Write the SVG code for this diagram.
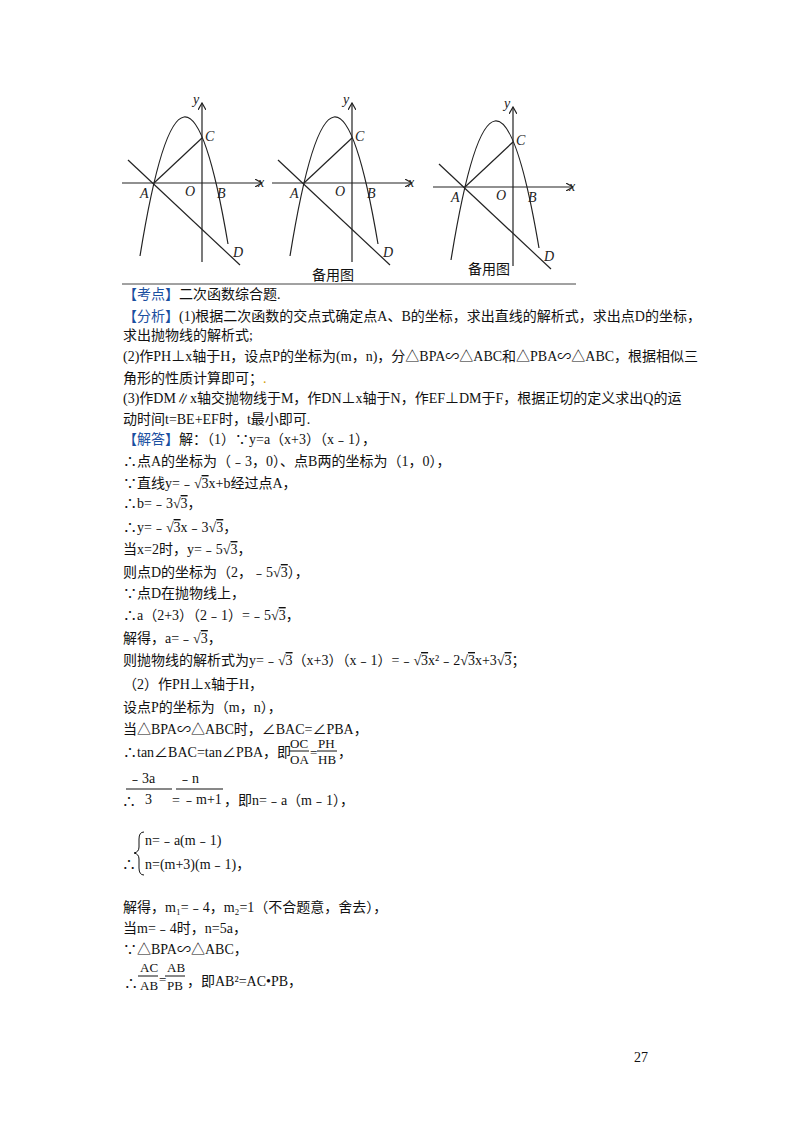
<svg xmlns="http://www.w3.org/2000/svg" width="800" height="1132" viewBox="0 0 800 1132">
<style>
.t{font-family:"Liberation Serif","Noto Sans CJK SC",serif;font-size:14px;fill:#111}
.f{font-family:"Liberation Serif",serif;font-size:13px;fill:#111}
.b{fill:#1a4fa0}
.g{fill:none;stroke:#222;stroke-width:1.2}
.l{font-family:"Liberation Serif",serif;font-style:italic;font-size:14px;fill:#222}
.o{text-decoration:overline}
</style>
<defs>
<marker id="ar" markerWidth="8" markerHeight="8" refX="7" refY="4" orient="auto" markerUnits="userSpaceOnUse"><path d="M0,0 L7,4 L0,8" fill="none" stroke="#222" stroke-width="1.2"/></marker>
<g id="graph">
<line class="g" x1="122" y1="183" x2="262" y2="183" marker-end="url(#ar)"/>
<line class="g" x1="202" y1="262" x2="202" y2="103" marker-end="url(#ar)"/>
<path class="g" d="M140,256 Q184,-16 228,244"/>
<line class="g" x1="128" y1="160" x2="240" y2="265"/>
<line class="g" x1="154" y1="183" x2="202" y2="138"/>
<text class="l" x="193" y="104">y</text><text class="l" x="258" y="187">x</text>
<text class="l" x="205" y="141">C</text><text class="l" x="140" y="198">A</text>
<text class="l" x="185" y="196">O</text><text class="l" x="217" y="198">B</text>
<text class="l" x="233" y="257">D</text>
</g>
</defs>
<g id="graphs">
<use href="#graph"/>
<use href="#graph" x="150" y="0"/>
<use href="#graph" x="311" y="4"/>
<line x1="122" y1="284" x2="576" y2="284" stroke="#444" stroke-width="1"/>
<text class="t" x="312" y="280">备用图</text>
<text class="t" x="468" y="274">备用图</text>
</g>
<g id="text">
<text class="t" x="123" y="299"><tspan class="b">【考点】</tspan>二次函数综合题.</text>
<text class="t" x="123" y="321"><tspan class="b">【分析】</tspan>(1)根据二次函数的交点式确定点A、B的坐标，求出直线的解析式，求出点D的坐标，</text>
<text class="t" x="123" y="340">求出抛物线的解析式;</text>
<text class="t" x="123" y="361">(2)作PH⊥x轴于H，设点P的坐标为(m，n)，分△BPA∽△ABC和△PBA∽△ABC，根据相似三</text>
<text class="t" x="123" y="383">角形的性质计算即可；<tspan fill="#d4a000">.</tspan></text>
<text class="t" x="123" y="403">(3)作DM∥x轴交抛物线于M，作DN⊥x轴于N，作EF⊥DM于F，根据正切的定义求出Q的运</text>
<text class="t" x="123" y="424">动时间t=BE+EF时，t最小即可.</text>
<text class="t" x="123" y="444"><tspan class="b">【解答】</tspan>解：（1）∵y=a（x+3）（x﹣1），</text>
<text class="t" x="123" y="466">∴点A的坐标为（﹣3，0）、点B两的坐标为（1，0），</text>
<text class="t" x="123" y="488">∵直线y=﹣√<tspan class="o">3</tspan>x+b经过点A，</text>
<text class="t" x="123" y="508">∴b=﹣3√<tspan class="o">3</tspan>，</text>
<text class="t" x="123" y="532">∴y=﹣√<tspan class="o">3</tspan>x﹣3√<tspan class="o">3</tspan>，</text>
<text class="t" x="123" y="554">当x=2时，y=﹣5√<tspan class="o">3</tspan>，</text>
<text class="t" x="123" y="577">则点D的坐标为（2，﹣5√<tspan class="o">3</tspan>），</text>
<text class="t" x="123" y="598">∵点D在抛物线上，</text>
<text class="t" x="123" y="620">∴a（2+3）（2﹣1）=﹣5√<tspan class="o">3</tspan>，</text>
<text class="t" x="123" y="643">解得，a=﹣√<tspan class="o">3</tspan>，</text>
<text class="t" x="123" y="665">则抛物线的解析式为y=﹣√<tspan class="o">3</tspan>（x+3）（x﹣1）=﹣√<tspan class="o">3</tspan>x²﹣2√<tspan class="o">3</tspan>x+3√<tspan class="o">3</tspan>；</text>
<text class="t" x="123" y="689">（2）作PH⊥x轴于H，</text>
<text class="t" x="123" y="712">设点P的坐标为（m，n），</text>
<text class="t" x="123" y="734">当△BPA∽△ABC时，∠BAC=∠PBA，</text>
<text class="t" x="123" y="757">∴tan∠BAC=tan∠PBA，即</text>
<text class="f" x="290" y="748">OC</text><line x1="289" y1="751" x2="309" y2="751" stroke="#111"/><text class="f" x="290" y="764">OA</text>
<text class="f" x="310" y="757">=</text>
<text class="f" x="318" y="748">PH</text><line x1="317" y1="751" x2="337" y2="751" stroke="#111"/><text class="f" x="318" y="764">HB</text>
<text class="t" x="338" y="757">，</text>
<text class="t" x="128" y="783">﹣3a</text><line x1="126" y1="789" x2="172" y2="789" stroke="#111"/>
<text class="t" x="178" y="783">﹣n</text><line x1="176" y1="789" x2="223" y2="789" stroke="#111"/>
<text class="t" x="122" y="806">∴</text><text class="t" x="145" y="804">3</text><text class="t" x="172" y="805">=</text><text class="t" x="182" y="804">﹣m+1</text>
<text class="t" x="224" y="805">，即n=﹣a（m﹣1），</text>
<path d="M144,832 Q139,832 139,839 L139,847 Q139,852 134,853 Q139,854 139,859 L139,868 Q139,875 144,875" fill="none" stroke="#111"/>
<text class="t" x="145" y="845">n=﹣a(m﹣1)</text>
<text class="t" x="122" y="869">∴</text><text class="t" x="145" y="869">n=(m+3)(m﹣1)，</text>
<text class="t" x="123" y="912">解得，m₁=﹣4，m₂=1（不合题意，舍去），</text>
<text class="t" x="123" y="933">当m=﹣4时，n=5a，</text>
<text class="t" x="123" y="954">∵△BPA∽△ABC，</text>
<text class="f" x="140" y="972">AC</text><line x1="138" y1="976" x2="158" y2="976" stroke="#111"/><text class="f" x="140" y="990">AB</text>
<text class="f" x="159" y="984">=</text>
<text class="f" x="167" y="972">AB</text><line x1="165" y1="976" x2="185" y2="976" stroke="#111"/><text class="f" x="167" y="990">PB</text>
<text class="t" x="124" y="988">∴</text><text class="t" x="187" y="986">，即AB²=AC•PB，</text>
<text class="t" x="634" y="1062">27</text>
</g>
</svg>
